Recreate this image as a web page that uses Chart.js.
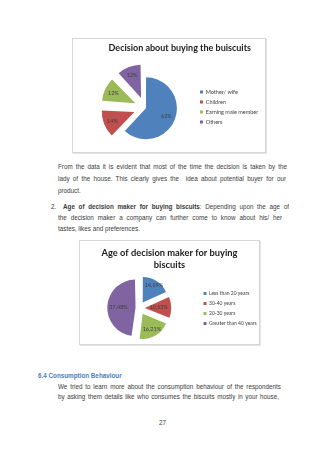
<!DOCTYPE html>
<html><head><meta charset="utf-8">
<script src="https://cdn.jsdelivr.net/npm/chart.js@4/dist/chart.umd.min.js"></script>
<style>
html,body{margin:0;padding:0;background:#fff;width:320px;height:453px;overflow:hidden}
.box{position:absolute;border:1px solid #d6d6d6;box-shadow:1px 1px 0 #e4e4e4;background:#fff}
.box div{position:absolute;left:0;top:0;bottom:0;right:0}
.ln{position:absolute;height:10px;line-height:10px;font-family:"Liberation Sans",Arial,sans-serif;font-size:6.3px;color:#3a3a3a;white-space:nowrap}
.j{text-align:justify;text-align-last:justify;white-space:normal;overflow:hidden}
</style></head><body>

<div class="box" style="left:72px;top:38px;width:192px;height:113px"><div><canvas id="c1"></canvas></div></div>

<div class="ln j" style="top:162px;left:58px;width:229px">From the data it is evident that most of the time the decision is taken by the</div>
<div class="ln j" style="top:174px;left:58px;width:228px">lady of the house. This clearly gives the&nbsp; idea about potential buyer for our</div>
<div class="ln" style="top:186px;left:58px">product.</div>
<div class="ln" style="top:202px;left:51px">2.</div>
<div class="ln j" style="top:202px;left:63px;width:226px"><b>Age of decision maker for buying biscuits</b>: Depending upon the age of</div>
<div class="ln j" style="top:213px;left:58px;width:224px">the decision maker a company can further come to know about his/ her</div>
<div class="ln" style="top:224px;left:58px">tastes, likes and preferences.</div>

<div class="box" style="left:79px;top:240px;width:179px;height:103px"><div><canvas id="c2"></canvas></div></div>

<div class="ln" style="top:371px;left:38px;font-weight:bold;color:#4a7ebb">6.4 Consumption Behaviour</div>
<div class="ln j" style="top:382px;left:58px;width:223px">We tried to learn more about the consumption behaviour of the respondents</div>
<div class="ln j" style="top:392px;left:58px;width:221px">by asking them details like who consumes the biscuits mostly in your house,</div>
<div class="ln" style="top:418px;left:159px">27</div>

<script>
// ---- data ----
const decisionLabels = ["Mother/ wife", "Children", "Earning male member", "Others"];
const decisionValues = [62, 14, 12, 12];
const ageLabels = ["Less than 20 years", "30-40 years", "20-30 years", "Greater than 40 years"];
const ageValues = [14.19, 10.13, 16.21, 37.48];
const sliceColors = ["#4F81BD", "#C0504D", "#9BBB59", "#8064A2"];

// convert desired pixel displacement into Chart.js arc "offset"
function offsetFor(disp) {
  return function (c) {
    const d = c.dataset.data;
    const sum = d.reduce((a, b) => a + b, 0);
    const circ = 2 * Math.PI * d[c.dataIndex] / sum;
    const k = 2 - Math.sin(Math.min(Math.PI, circ));
    const D = Array.isArray(disp) ? disp[c.dataIndex] : disp;
    return 4 * D / k;
  };
}

const sliceLabels = {
  id: 'sliceLabels',
  afterDatasetsDraw(chart, args, opts) {
    const ctx = chart.ctx;
    const ds = chart.data.datasets[0];
    const meta = chart.getDatasetMeta(0);
    ctx.save();
    ctx.font = opts.font;
    ctx.fillStyle = opts.color;
    ctx.textAlign = 'center';
    ctx.textBaseline = 'middle';
    meta.data.forEach((arc, i) => {
      const p = arc.getProps(['x', 'y', 'startAngle', 'endAngle', 'outerRadius', 'circumference'], true);
      const mid = (p.startAngle + p.endAngle) / 2;
      const off = (arc.options.offset || 0) / 4 * (2 - Math.sin(Math.min(Math.PI, p.circumference)));
      const f = Array.isArray(opts.frac) ? opts.frac[i] : opts.frac;
      const d = off + f * p.outerRadius;
      ctx.fillText(opts.format(ds.data[i]), p.x + Math.cos(mid) * d, p.y + Math.sin(mid) * d);
    });
    ctx.restore();
  }
};

function legendOpts(shift, width, size) {
  return {
    position: 'right',
    maxWidth: width,
    title: { display: true, text: ' ', font: { size: 1 }, padding: { top: shift, bottom: 0 } },
    labels: {
      boxWidth: 3, boxHeight: 3, padding: 10 - size, color: '#404040',
      font: { family: 'Lato', size: size }
    }
  };
}

new Chart(document.getElementById('c1'), {
  type: 'pie',
  data: { labels: decisionLabels, datasets: [{
    data: decisionValues, backgroundColor: sliceColors, borderWidth: 0,
    offset: offsetFor([2, 14, 14, 14]), radius: 30
  }]},
  options: {
    responsive: true, maintainAspectRatio: false, animation: false,
    layout: { padding: { left: 21.5, right: 0, top: 0, bottom: 0 } },
    plugins: {
      title: { display: true, text: 'Decision about buying the buiscuits', color: '#1a1a1a',
        font: { family: 'Lato', size: 9, weight: 'bold', lineHeight: 1.2 }, padding: { top: 4, bottom: 10 } },
      legend: legendOpts(22, 69.5, 5.5),
      tooltip: { enabled: false },
      sliceLabels: { font: '5.5px Lato', color: '#404040', frac: 0.7, format: v => v + '%' }
    }
  },
  plugins: [sliceLabels]
});

new Chart(document.getElementById('c2'), {
  type: 'pie',
  data: { labels: ageLabels, datasets: [{
    data: ageValues, backgroundColor: sliceColors, borderWidth: 0,
    offset: offsetFor(7), radius: 25
  }]},
  options: {
    responsive: true, maintainAspectRatio: false, animation: false,
    layout: { padding: { left: 0, right: 0, top: 0, bottom: 0 } },
    plugins: {
      title: { display: true, text: ['Age of decision maker for buying', 'biscuits'], color: '#1a1a1a',
        font: { family: 'Lato', size: 9.3, weight: 'bold', lineHeight: 1.29 }, padding: { top: 6, bottom: 1 } },
      legend: legendOpts(31, 60.5, 5),
      tooltip: { enabled: false },
      sliceLabels: { font: '5.5px Lato', color: '#404040', frac: [0.8, 0.5, 0.72, 0.55], format: v => v.toFixed(2).replace('.', ',') + '%' }
    }
  },
  plugins: [sliceLabels]
});
</script>
</body></html>
